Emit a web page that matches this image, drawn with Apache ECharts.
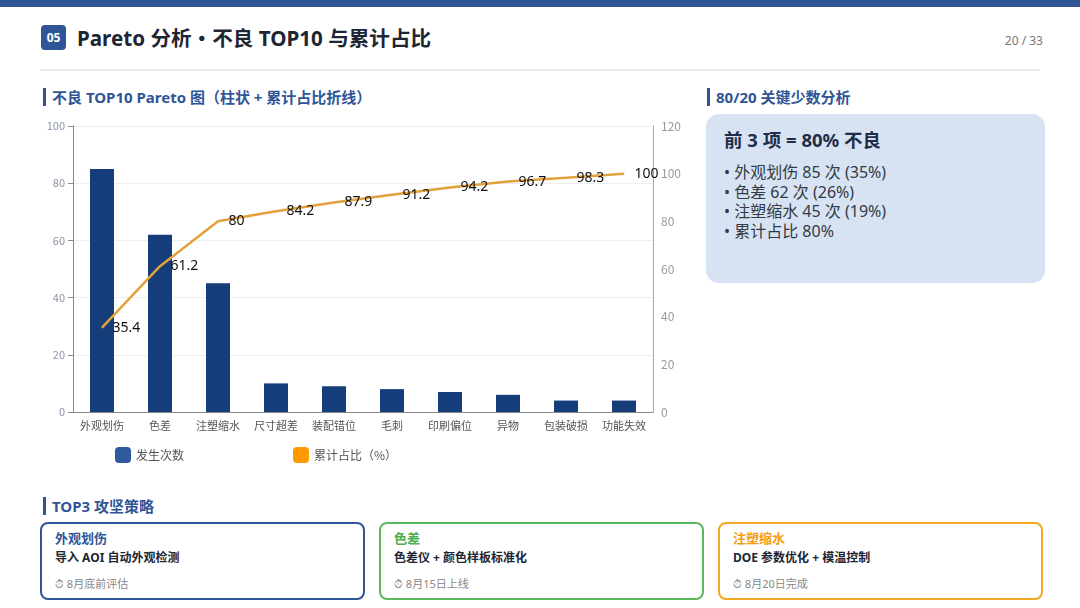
<!DOCTYPE html>
<html><head><meta charset="utf-8">
<script src="https://cdn.jsdelivr.net/npm/echarts@6/dist/echarts.min.js"></script>
<style>
*{margin:0;padding:0;box-sizing:border-box;}
body{width:1080px;height:608px;background:#fff;font-family:"Noto Sans","Noto Sans CJK SC",sans-serif;position:relative;overflow:hidden;color:#1f2937;}
.topbar{position:absolute;left:0;top:0;width:1080px;height:7px;background:#2f5597;}
.badge{position:absolute;left:41px;top:25px;width:25px;height:25px;border-radius:4px;background:#2f5597;color:#fff;font-size:12px;font-weight:bold;line-height:25px;text-align:center;}
.title{position:absolute;left:77px;top:23px;font-size:20.6px;font-weight:bold;color:#1e2533;line-height:30px;}
.page{position:absolute;right:37px;top:32px;font-size:12px;color:#777;}
.sep{position:absolute;left:40px;top:69px;width:1000px;height:2px;background:#e8e8ea;}
.sec{position:absolute;font-size:15px;font-weight:bold;color:#2f5597;line-height:18px;padding-left:6px;border-left:3px solid #2f5597;}
.panel{position:absolute;left:706px;top:114px;width:339px;height:169px;background:#d7e3f2;border-radius:13px;}
.panel h3{position:absolute;left:18px;top:12px;font-size:18.5px;font-weight:bold;color:#1f2d48;}
.panel ul{position:absolute;left:18px;top:49px;list-style:none;font-size:16px;line-height:19.5px;color:#333a44;}
.card{position:absolute;top:522px;width:325px;height:78px;border:2px solid;border-radius:8px;}
.card .t{position:absolute;left:13px;top:4px;font-size:13px;font-weight:bold;}
.card .s{position:absolute;left:13px;top:24px;font-size:12px;font-weight:bold;color:#1e2533;}
.card .d{position:absolute;left:13px;top:51px;font-size:11px;color:#888;}
#chart{position:absolute;left:40px;top:112px;width:660px;height:370px;}
</style></head>
<body>
<div class="topbar"></div>
<div class="badge">05</div>
<div class="title">Pareto 分析・不良 TOP10 与累计占比</div>
<div class="page">20 / 33</div>
<div class="sep"></div>
<div class="sec" style="left:43px;top:88px;">不良 TOP10 Pareto 图（柱状 + 累计占比折线）</div>
<div class="sec" style="left:707px;top:88px;">80/20 关键少数分析</div>
<div class="panel">
<h3>前 3 项 = 80% 不良</h3>
<ul>
<li>• 外观划伤 85 次 (35%)</li>
<li>• 色差 62 次 (26%)</li>
<li>• 注塑缩水 45 次 (19%)</li>
<li>• 累计占比 80%</li>
</ul>
</div>
<div id="chart"></div>
<div class="sec" style="left:43px;top:497px;">TOP3 攻坚策略</div>
<div class="card" style="left:40px;border-color:#2f5597;"><div class="t" style="color:#2f5597;">外观划伤</div><div class="s">导入 AOI 自动外观检测</div><div class="d">⏱ 8月底前评估</div></div>
<div class="card" style="left:379px;border-color:#5cb85c;"><div class="t" style="color:#4cae4c;">色差</div><div class="s">色差仪 + 颜色样板标准化</div><div class="d">⏱ 8月15日上线</div></div>
<div class="card" style="left:718px;border-color:#f5a623;"><div class="t" style="color:#f39c12;">注塑缩水</div><div class="s">DOE 参数优化 + 模温控制</div><div class="d">⏱ 8月20日完成</div></div>
<script>
const categories = ['外观划伤','色差','注塑缩水','尺寸超差','装配错位','毛刺','印刷偏位','异物','包装破损','功能失效'];
const counts = [85,62,45,10,9,8,7,6,4,4];
const cumulative = [35.4,61.2,80,84.2,87.9,91.2,94.2,96.7,98.3,100];
const leftTicks = {min:0,max:100,interval:20};
const rightTicks = {min:0,max:120,interval:20};

const chart = echarts.init(document.getElementById('chart'));
chart.setOption({
  animation:false,
  textStyle:{fontFamily:'"Noto Sans CJK SC","Noto Sans",sans-serif'},
  grid:{left:33,top:14,width:580,height:286},
  legend:{
    left:70, top:330, itemWidth:16, itemHeight:16, itemGap:109,
    icon:'roundRect',
    textStyle:{fontSize:12,color:'#555'},
    data:[
      {name:'发生次数',itemStyle:{color:'#2f5a9e',opacity:1}},
      {name:'累计占比（%）',itemStyle:{color:'#ff9a00',opacity:1}}
    ]
  },
  xAxis:{
    type:'category', data:categories,
    axisLine:{lineStyle:{color:'#888'}},
    axisTick:{lineStyle:{color:'#888'}},
    axisLabel:{fontSize:11,color:'#555',margin:8,interval:0}
  },
  yAxis:[
    {type:'value',min:leftTicks.min,max:leftTicks.max,interval:leftTicks.interval,
     axisLine:{show:true,lineStyle:{color:'#888'}},axisTick:{show:true,lineStyle:{color:'#888'}},
     axisLabel:{fontSize:11,color:'#8a93a6'},
     splitLine:{lineStyle:{color:'#eceef2'}}},
    {type:'value',min:rightTicks.min,max:rightTicks.max,interval:rightTicks.interval,
     axisLine:{show:true,lineStyle:{color:'#aaa'}},
     axisLabel:{fontSize:12,color:'#999'},
     splitLine:{show:false}}
  ],
  series:[
    {name:'发生次数',type:'bar',data:counts,barWidth:24,yAxisIndex:0,
     itemStyle:{color:'#143d7a'}},
    {name:'累计占比（%）',type:'line',data:cumulative,yAxisIndex:1,
     symbol:'circle',symbolSize:1,itemStyle:{color:'#e2a13a'},
     lineStyle:{color:'#e2a13a',width:2.5},
     label:{show:true,position:'right',distance:10,fontSize:14,color:'#111',
            fontFamily:'"Noto Sans","DejaVu Sans",sans-serif'}}
  ]
});
</script>
</body></html>
